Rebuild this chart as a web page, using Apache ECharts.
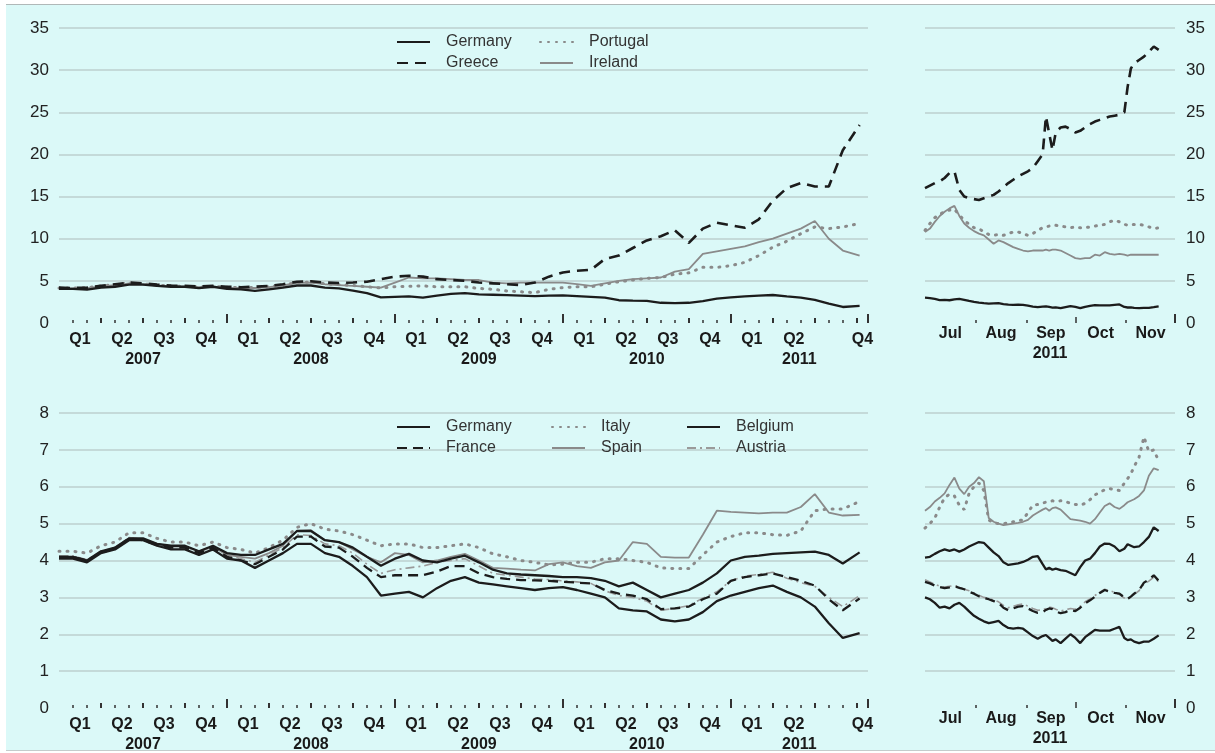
<!DOCTYPE html>
<html><head><meta charset="utf-8">
<script src="https://cdn.jsdelivr.net/npm/echarts@6/dist/echarts.min.js"></script>
<style>
html,body{margin:0;padding:0;background:#fff;}
#bg{position:absolute;left:6px;top:4px;width:1209px;height:745px;background:#dbf9f8;border-top:1px solid #b0b8b8;border-bottom:1px solid #c4cccc;}
#chart{position:absolute;left:0;top:0;width:1215px;height:753px;}
</style></head><body><div id="bg"></div><div id="chart"></div>
<script>
// ---------- x positions ----------
// Left panels: months since Jan 2007
const leftMonths = [0,1,2,3,4,5,6,7,8,9,10,11,12,13,14,15,16,17,18,19,20,21,22,23,24,25,26,27,28,29,30,31,32,33,34,35,36,37,38,39,40,41,42,43,44,45,46,47,48,49,50,51,52,53,54,55,56,57.2];
// Right panels: days since 1 Jul 2011
const rightDays = [0,3,6,9,12,15,18,21,24,27,30,33,36,39,42,45,48,51,54,57,60,63,66,69,72,74,76,78,80,83,86,89,92,95,98,101,104,107,110,113,116,119,122,124,126,128,131,134,137,140,143];

// ---------- left panel series (monthly) ----------
const germanyLong = [4.05,4.05,3.95,4.2,4.3,4.55,4.55,4.4,4.3,4.3, 4.15,4.3,4.05,4.0,3.8,4.0,4.2,4.45,4.45,4.2, 4.1,3.85,3.55,3.05,3.1,3.15,3.0,3.25,3.45,3.55, 3.4,3.35,3.3,3.25,3.2,3.25,3.28,3.2,3.1,3.0, 2.7,2.65,2.62,2.4,2.35,2.4,2.6,2.9,3.05,3.15, 3.25,3.32,3.15,3.0,2.75,2.3,1.9,2.03];
const greeceLong = [4.2,4.15,4.2,4.4,4.6,4.8,4.7,4.55,4.45,4.4, 4.35,4.4,4.3,4.25,4.3,4.4,4.6,4.9,4.95,4.8, 4.75,4.8,4.9,5.2,5.5,5.6,5.5,5.2,5.1,5.0, 4.8,4.7,4.6,4.5,4.8,5.5,6.0,6.2,6.3,7.6, 8.0,8.9,9.8,10.3,11.0,9.5,11.2,11.9,11.6,11.3, 12.3,14.5,16.0,16.6,16.2,16.2,20.5,23.5];
const portugalLong = [4.15,4.15,4.2,4.4,4.55,4.75,4.65,4.5,4.4,4.35, 4.3,4.35,4.25,4.2,4.2,4.3,4.5,4.8,4.85,4.65, 4.55,4.45,4.3,4.15,4.3,4.35,4.4,4.3,4.3,4.3, 4.1,4.0,3.8,3.7,3.6,4.0,4.2,4.3,4.3,4.6, 4.9,5.1,5.3,5.4,5.8,5.95,6.6,6.6,6.8,7.2, 8.0,9.0,9.7,10.6,11.4,11.2,11.4,11.8];
const irelandLong = [4.1,4.1,4.15,4.35,4.5,4.7,4.6,4.45,4.35,4.3, 4.25,4.3,4.2,4.15,4.15,4.25,4.45,4.75,4.8,4.6, 4.5,4.4,4.3,4.2,4.8,5.4,5.3,5.3,5.2,5.1, 5.1,4.8,4.7,4.8,4.8,4.8,4.8,4.6,4.4,4.7, 5.0,5.2,5.3,5.4,6.1,6.4,8.2,8.5,8.8,9.1, 9.6,10.0,10.6,11.2,12.1,10.0,8.6,8.0];
const franceLong = [4.1,4.1,4.0,4.22,4.32,4.6,4.55,4.42,4.35,4.35, 4.2,4.35,4.1,4.0,3.9,4.1,4.3,4.65,4.65,4.38, 4.35,4.1,3.8,3.55,3.6,3.6,3.6,3.7,3.85,3.85, 3.65,3.55,3.5,3.47,3.46,3.45,3.42,3.4,3.38,3.2, 3.1,3.05,2.95,2.68,2.7,2.75,2.95,3.1,3.45,3.55, 3.6,3.65,3.55,3.45,3.32,2.95,2.65,2.97];
const italyLong = [4.25,4.25,4.2,4.4,4.5,4.75,4.75,4.6,4.5,4.5, 4.4,4.5,4.35,4.3,4.2,4.35,4.55,4.9,5.0,4.85, 4.8,4.7,4.55,4.4,4.45,4.45,4.35,4.35,4.4,4.45, 4.35,4.18,4.1,4.0,3.95,3.88,3.9,3.95,3.95,4.05, 4.05,4.0,3.95,3.8,3.78,3.78,4.15,4.5,4.65,4.75, 4.75,4.7,4.68,4.8,5.35,5.4,5.4,5.6];
const spainLong = [4.1,4.1,4.0,4.22,4.35,4.6,4.58,4.45,4.38,4.38, 4.25,4.38,4.15,4.1,4.05,4.2,4.4,4.8,4.82,4.55, 4.5,4.3,4.1,3.95,4.2,4.15,3.95,4.0,4.1,4.18, 4.0,3.8,3.78,3.75,3.73,3.9,3.95,3.85,3.8,3.95, 4.0,4.5,4.45,4.1,4.08,4.08,4.7,5.35,5.32,5.3, 5.28,5.3,5.3,5.45,5.8,5.3,5.22,5.24];
const belgiumLong = [4.1,4.1,4.0,4.25,4.35,4.6,4.6,4.45,4.4,4.4, 4.25,4.4,4.2,4.15,4.15,4.3,4.45,4.8,4.8,4.55, 4.5,4.35,4.1,3.86,4.05,4.18,4.0,3.95,4.05,4.13, 3.95,3.75,3.65,3.62,3.6,3.58,3.55,3.55,3.52,3.45, 3.3,3.4,3.2,3.0,3.1,3.2,3.4,3.65,4.0,4.1, 4.13,4.18,4.2,4.22,4.24,4.15,3.92,4.22];
const austriaLong = [4.12,4.12,4.02,4.25,4.35,4.62,4.58,4.45,4.38,4.38, 4.22,4.38,4.15,4.05,3.95,4.15,4.35,4.7,4.68,4.45, 4.4,4.2,3.9,3.65,3.75,3.8,3.85,3.95,4.0,4.05, 3.85,3.65,3.6,3.55,3.5,3.48,3.45,3.42,3.38,3.18, 3.05,3.0,2.9,2.65,2.7,2.78,2.98,3.15,3.45,3.58, 3.62,3.68,3.52,3.4,3.3,3.0,2.75,3.05];

// ---------- right panel series (Jul-Nov 2011) ----------
const germanyRecent = [3.0,2.95,2.85,2.72,2.75,2.7,2.8,2.85,2.75,2.62, 2.5,2.42,2.35,2.3,2.33,2.36,2.25,2.17,2.15,2.17, 2.15,2.05,1.95,1.88,1.95, 1.98,1.9,1.82,1.86, 1.76,1.88,2.0,1.9,1.76,1.92,2.02,2.12,2.1,2.1,2.1,2.15,2.2,1.9, 1.84,1.86,1.8, 1.76,1.8,1.8,1.88,1.97];
const greeceRecent = [16.0,16.3,16.6,16.8,17.2,17.8,18.0,15.8,15.0,14.8, 14.7,14.6,14.8,15.0,15.2,15.6,16.1,16.6,17.0,17.4, 17.7,18.0,18.4,19.2,20.0, 24.5,22.5,20.5,22.6, 23.2,23.3,23.0,22.6,22.8,23.2,23.6,23.9,24.1,24.3,24.5,24.6,24.7,25.0, 28.0,30.2,30.8, 31.2,31.6,32.2,32.8,32.4];
const portugalRecent = [11.0,11.8,12.5,12.9,13.2,13.4,13.5,12.8,12.2,11.7, 11.3,11.2,10.8,10.5,10.4,10.5,10.4,10.6,10.8,10.8, 10.6,10.4,10.6,11.0,11.3, 11.4,11.5,11.6,11.6, 11.5,11.4,11.3,11.4,11.3,11.3,11.4,11.5,11.6,11.7,12.0,12.2,12.0,11.7, 11.6,11.7,11.7, 11.7,11.6,11.4,11.2,11.3];
const irelandRecent = [10.8,11.2,12.0,12.7,13.2,13.6,13.9,12.7,11.8,11.3, 10.9,10.6,10.4,9.9,9.4,9.8,9.6,9.3,9.0,8.8, 8.6,8.5,8.6,8.6,8.6, 8.7,8.6,8.7,8.7, 8.6,8.3,8.0,7.7,7.6,7.7,7.7,8.1,8.0,8.4,8.2,8.1,8.2,8.1, 8.0,8.1,8.1, 8.1,8.1,8.1,8.1,8.1];
const franceRecent = [3.42,3.38,3.32,3.28,3.25,3.27,3.3,3.26,3.22,3.15, 3.1,3.03,2.98,2.95,2.9,2.85,2.72,2.65,2.7,2.75, 2.76,2.7,2.63,2.58,2.6, 2.66,2.7,2.68,2.62, 2.57,2.6,2.66,2.63,2.72,2.84,2.92,3.02,3.12,3.2,3.15,3.12,3.1,3.0, 2.96,3.02,3.1, 3.2,3.4,3.48,3.6,3.45];
const austriaRecent = [3.48,3.42,3.36,3.3,3.28,3.3,3.32,3.28,3.22,3.18, 3.12,3.06,3.0,2.97,2.93,2.88,2.78,2.72,2.76,2.8, 2.82,2.76,2.7,2.65,2.66, 2.7,2.74,2.72,2.68, 2.63,2.66,2.7,2.68,2.76,2.88,2.96,3.05,3.14,3.22,3.18,3.14,3.08,2.98, 2.95,3.0,3.08, 3.18,3.36,3.44,3.55,3.42];
const belgiumRecent = [4.08,4.1,4.18,4.25,4.3,4.26,4.3,4.24,4.3,4.38, 4.44,4.5,4.48,4.35,4.22,4.12,3.95,3.88,3.9,3.92, 3.96,4.02,4.1,4.12,3.9, 3.76,3.8,3.75,3.78, 3.74,3.72,3.66,3.6,3.82,4.0,4.05,4.2,4.38,4.46,4.45,4.38,4.25,4.32, 4.44,4.4,4.36, 4.38,4.5,4.64,4.9,4.8];
const spainRecent = [5.35,5.45,5.6,5.7,5.82,6.05,6.25,5.95,5.8,6.0, 6.1,6.26,6.15,5.15,5.05,5.0,4.96,4.98,5.0,5.02, 5.05,5.1,5.22,5.3,5.38, 5.42,5.35,5.42,5.44, 5.38,5.25,5.12,5.1,5.08,5.05,5.0,5.12,5.3,5.48,5.55,5.45,5.4,5.5, 5.58,5.62,5.66, 5.75,5.9,6.3,6.5,6.45];
const italyRecent = [4.88,5.0,5.15,5.45,5.7,5.8,5.75,5.5,5.38,5.82, 6.0,6.1,5.9,5.1,5.02,5.0,5.0,5.02,5.05,5.08, 5.1,5.3,5.5,5.52,5.56, 5.58,5.6,5.62,5.6, 5.62,5.6,5.55,5.52,5.5,5.55,5.65,5.78,5.85,5.92,5.95,5.92,5.9,6.1, 6.22,6.35,6.55, 6.8,7.35,6.95,7.0,6.7];

// ---------- axis ticks and labels ----------
const leftMonthTicks = [1,2,4,5,7,8,10,11,13,14,16,17,19,20,22,23,25,26,28,29,31,32,34,35,37,38,40,41,43,44,46,47,49,50,52,53,55,56];
const leftQuarterTicks = [3,6,9,15,18,21,27,30,33,39,42,45,51,54,57];
const leftYearTicks = [12,24,36,48,57.8];
const quarterLabelPos = [1.5,4.5,7.5,10.5,13.5,16.5,19.5,22.5,25.5,28.5,31.5,34.5,37.5,40.5,43.5,46.5,49.5,52.5,57.4];
const quarterLabelText = ['Q1','Q2','Q3','Q4','Q1','Q2','Q3','Q4','Q1','Q2','Q3','Q4','Q1','Q2','Q3','Q4','Q1','Q2','Q4'];
const yearLabelPos = [6,18,30,42,52.9];
const yearLabelText = ['2007','2008','2009','2010','2011'];
const rightSmallTicks = [31,62,123];
const rightMidTicks = [92];
const rightEndTicks = [153];
const monthLabelPos = [15.5,46.5,77,107.5,138];
const monthLabelText = ['Jul','Aug','Sep','Oct','Nov'];
const recentYearPos = [76.5];
const recentYearText = ['2011'];

const FONT = '"Liberation Sans", Arial, Helvetica, sans-serif';
const BLACK = '#1c1c1c', GRAY = '#8a8a8a', GRID = '#bccfcf';

function pick(posArr, textArr) {
  return function (v) {
    let best = 0, bd = Infinity;
    posArr.forEach((p, i) => { const d = Math.abs(p - v); if (d < bd) { bd = d; best = i; } });
    return textArr[best];
  };
}

function xAx(grid, min, max, opts) {
  return Object.assign({
    type: 'value', gridIndex: grid, min: min, max: max, position: 'bottom',
    axisLine: { show: false }, splitLine: { show: false },
    axisTick: { show: false }, axisLabel: { show: false }
  }, opts);
}
function ticks(vals, len, w) {
  return { show: true, inside: true, length: len, customValues: vals, lineStyle: { color: '#333', width: w } };
}
function labels(pos, txt, margin, size) {
  return { show: true, customValues: pos, margin: margin, formatter: pick(pos, txt),
           color: '#1a1a1a', fontFamily: FONT, fontSize: size, fontWeight: 'bold' };
}

const xAxes = [];
[0, 2].forEach(g => {
  const L = 57.8;
  const block = [
    xAx(g, 0, L, { axisTick: ticks(leftMonthTicks, 3, 1.5), axisLabel: labels(quarterLabelPos, quarterLabelText, 9, 16) }),
    xAx(g, 0, L, { axisTick: ticks(leftQuarterTicks, 5, 2) }),
    xAx(g, 0, L, { axisTick: ticks(leftYearTicks, 9, 2), axisLabel: labels(yearLabelPos, yearLabelText, 29, 16) })
  ];
  const rblock = [
    xAx(g + 1, 0, 153, { axisTick: ticks(rightSmallTicks, 3, 1.5), axisLabel: labels(monthLabelPos, monthLabelText, 3, 16) }),
    xAx(g + 1, 0, 153, { axisTick: ticks(rightMidTicks, 6, 1.5) }),
    xAx(g + 1, 0, 153, { axisTick: ticks(rightEndTicks, 9, 2), axisLabel: labels(recentYearPos, recentYearText, 23, 16) })
  ];
  xAxes.push(...block, ...rblock);
});

function yAx(grid, max, interval, pos) {
  return {
    type: 'value', gridIndex: grid, min: 0, max: max, interval: interval, position: pos,
    axisLine: { show: false }, axisTick: { show: false },
    splitLine: { show: true, showMinLine: false, lineStyle: { color: GRID, width: 1.5 } },
    axisLabel: { color: '#222', fontFamily: FONT, fontSize: 17, margin: pos === 'left' ? 10 : 11 }
  };
}

const styles = {
  Germany:  { color: BLACK, width: 2.3, type: 'solid' },
  Greece:   { color: BLACK, width: 2.6, type: [11, 7] },
  Portugal: { color: GRAY,  width: 3,   type: [1, 7], cap: 'round' },
  Ireland:  { color: GRAY,  width: 1.8, type: 'solid' },
  France:   { color: BLACK, width: 2.3, type: [10, 6] },
  Italy:    { color: GRAY,  width: 3,   type: [1, 7], cap: 'round' },
  Spain:    { color: GRAY,  width: 1.8, type: 'solid' },
  Belgium:  { color: BLACK, width: 2.3, type: 'solid' },
  Austria:  { color: '#9a9a9a', width: 1.6, type: [9, 4, 2, 4] }
};

function ser(name, xs, ys, xi, yi) {
  const st = styles[name];
  return {
    type: 'line', name: name, xAxisIndex: xi, yAxisIndex: yi, symbol: 'none',
    silent: true, animation: false,
    lineStyle: { color: st.color, width: st.width, type: st.type, cap: st.cap || 'butt' },
    itemStyle: { color: st.color },
    data: xs.map((x, i) => [x, ys[i]])
  };
}

const series = [
  ser('Ireland', leftMonths, irelandLong, 0, 0),
  ser('Portugal', leftMonths, portugalLong, 0, 0),
  ser('Greece', leftMonths, greeceLong, 0, 0),
  ser('Germany', leftMonths, germanyLong, 0, 0),
  ser('Ireland', rightDays, irelandRecent, 3, 1),
  ser('Portugal', rightDays, portugalRecent, 3, 1),
  ser('Greece', rightDays, greeceRecent, 3, 1),
  ser('Germany', rightDays, germanyRecent, 3, 1),
  ser('Spain', leftMonths, spainLong, 6, 2),
  ser('Italy', leftMonths, italyLong, 6, 2),
  ser('Austria', leftMonths, austriaLong, 6, 2),
  ser('France', leftMonths, franceLong, 6, 2),
  ser('Belgium', leftMonths, belgiumLong, 6, 2),
  ser('Germany', leftMonths, germanyLong, 6, 2),
  ser('Spain', rightDays, spainRecent, 9, 3),
  ser('Italy', rightDays, italyRecent, 9, 3),
  ser('Austria', rightDays, austriaRecent, 9, 3),
  ser('France', rightDays, franceRecent, 9, 3),
  ser('Belgium', rightDays, belgiumRecent, 9, 3),
  ser('Germany', rightDays, germanyRecent, 9, 3)
];

function legendCol(names, left, top) {
  return {
    data: names, orient: 'vertical', left: left, top: top, itemWidth: 33, itemHeight: 12, itemGap: 5,
    selectedMode: false, padding: 0,
    itemStyle: { opacity: 0, color: 'transparent', borderWidth: 0 },
    textStyle: { fontFamily: FONT, fontSize: 16, color: '#333', padding: [0, 0, 0, 11], lineHeight: 16 }
  };
}

const chart = echarts.init(document.getElementById('chart'), null, { renderer: 'canvas' });
chart.setOption({
  backgroundColor: 'transparent',
  animation: false,
  grid: [
    { left: 59, top: 28, width: 809, height: 295 },
    { left: 925, top: 28, width: 250, height: 295 },
    { left: 59, top: 413, width: 809, height: 295 },
    { left: 925, top: 413, width: 250, height: 295 }
  ],
  legend: [
    legendCol(['Germany', 'Greece'], 396, 34),
    legendCol(['Portugal', 'Ireland'], 539, 34),
    legendCol(['Germany', 'France'], 396, 419),
    legendCol(['Italy', 'Spain'], 551, 419),
    legendCol(['Belgium', 'Austria'], 686, 419)
  ],
  xAxis: xAxes,
  yAxis: [yAx(0, 35, 5, 'left'), yAx(1, 35, 5, 'right'), yAx(2, 8, 1, 'left'), yAx(3, 8, 1, 'right')],
  series: series
});
</script></body></html>
